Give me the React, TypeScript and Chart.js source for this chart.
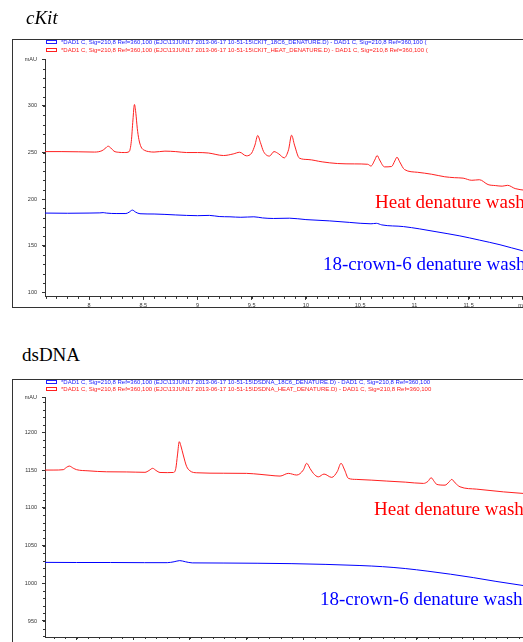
import React, { useEffect, useRef } from 'react';
import { Chart, registerables } from 'chart.js';

Chart.register(...registerables);

// ---------- cKit panel data ----------
const ckitHeatTime = [7.59, 7.75, 7.9, 8.05, 8.12, 8.15, 8.176, 8.2, 8.23, 8.27, 8.33, 8.37, 8.39, 8.405, 8.419, 8.432, 8.445, 8.46, 8.48, 8.51, 8.55, 8.6, 8.7, 8.8, 8.9, 9.0, 9.1, 9.24, 9.33, 9.389, 9.45, 9.5, 9.53, 9.556, 9.58, 9.61, 9.664, 9.706, 9.75, 9.8, 9.84, 9.868, 9.895, 9.94, 10.02, 10.15, 10.29, 10.45, 10.57, 10.6, 10.635, 10.657, 10.68, 10.725, 10.79, 10.82, 10.84, 10.865, 10.91, 11.03, 11.16, 11.28, 11.37, 11.45, 11.53, 11.6, 11.68, 11.75, 11.81, 11.86, 11.93, 12.02, 12.3];
const ckitHeatValue = [251, 251, 250.8, 250.5, 252, 254.5, 256.8, 255, 251.5, 250.3, 250, 251, 262, 285, 301.6, 292, 276, 264, 256, 252.5, 251, 250.5, 251.5, 251, 250, 250, 249.5, 246.8, 248.5, 250.3, 246.5, 249.5, 258, 268.3, 261, 251, 246.2, 251, 248.5, 244.3, 253, 268.6, 258, 244, 242.5, 240, 238.2, 237.8, 237.4, 235.5, 242, 246.8, 242, 234.6, 235, 241, 245, 240, 231.7, 228.8, 226.7, 224, 223, 222.5, 220.2, 220.8, 215.6, 214.5, 213.9, 214.8, 211.3, 209.5, 206];

const ckitCrownTime = [7.59, 7.8, 8.0, 8.1, 8.13, 8.16, 8.25, 8.34, 8.37, 8.4, 8.43, 8.47, 8.6, 8.8, 9.0, 9.11, 9.2, 9.3, 9.4, 9.52, 9.6, 9.7, 9.85, 10.0, 10.22, 10.4, 10.6, 10.65, 10.7, 10.9, 11.05, 11.2, 11.42, 11.6, 11.79, 12.0, 12.3];
const ckitCrownValue = [185, 184.8, 185, 185.2, 185.5, 185, 184.5, 184.5, 186, 188.2, 186, 184.3, 184, 183, 182.2, 182.5, 181.3, 181, 180.5, 181, 179.8, 179.2, 179.5, 178, 176.6, 175, 173.5, 174, 172.3, 170.5, 168, 165, 160.5, 156, 151, 144.5, 137];

const ckitYTicks = [100, 150, 200, 250, 300, 350];
const ckitXTicks = [8, 8.5, 9, 9.5, 10, 10.5, 11, 11.5, 12];

// ---------- dsDNA panel data ----------
const dsdnaHeatTime = [7.18, 7.3, 7.382, 7.41, 7.435, 7.47, 7.5, 7.6, 7.765, 7.942, 8.103, 8.14, 8.171, 8.2, 8.236, 8.3, 8.353, 8.375, 8.39, 8.406, 8.42, 8.441, 8.47, 8.5, 8.56, 8.794, 9.0, 9.118, 9.207, 9.295, 9.368, 9.442, 9.5, 9.53, 9.56, 9.589, 9.633, 9.683, 9.751, 9.8, 9.833, 9.865, 9.898, 9.972, 10.237, 10.4, 10.56, 10.6, 10.628, 10.655, 10.678, 10.751, 10.785, 10.81, 10.84, 10.883, 11.031, 11.266, 11.442, 11.8];
const dsdnaHeatValue = [1150, 1150, 1150.5, 1153.5, 1155.3, 1152.5, 1150.5, 1149, 1147.7, 1147.5, 1147, 1149.5, 1152.3, 1149.5, 1146.8, 1146.6, 1146.8, 1152, 1170, 1187.6, 1182, 1170, 1155, 1149, 1146.4, 1145.8, 1145.6, 1144.3, 1143, 1142, 1145.6, 1143.4, 1150, 1158.9, 1152, 1145.6, 1141, 1144.7, 1140.3, 1148, 1158.9, 1150, 1139, 1137.6, 1135.4, 1134, 1132.3, 1135, 1139.8, 1135, 1131, 1130, 1134, 1137.6, 1133, 1127.8, 1124.7, 1121.1, 1119, 1114];

const dsdnaCrownTime = [7.18, 7.5, 7.8, 8.1, 8.3, 8.36, 8.41, 8.46, 8.52, 8.8, 9.1, 9.4, 9.7, 10.0, 10.2, 10.4, 10.6, 10.8, 11.0, 11.2, 11.44, 11.8];
const dsdnaCrownValue = [1027.7, 1027.5, 1027.5, 1027.3, 1027.3, 1028.5, 1030, 1028.5, 1027, 1026.8, 1026.5, 1026, 1025, 1023.5, 1022, 1019.5, 1016, 1012, 1007.5, 1002.5, 997, 990];

const dsdnaYTicks = [950, 1000, 1050, 1100, 1150, 1200, 1246.4];
const dsdnaXTicks = [7.5, 8, 8.5, 9, 9.5, 10, 10.5, 11, 11.5, 12];

const AXIS = '#333333';
const TICK_FONT = { family: '"Liberation Sans", Arial, sans-serif', size: 5.5 };

const minorTicks = {
  id: 'minorTicks',
  afterDraw(chart: any, _args: any, opts: any) {
    const ctx = chart.ctx;
    const x = chart.scales.x;
    const y = chart.scales.y;
    ctx.save();
    ctx.strokeStyle = AXIS;
    ctx.lineWidth = 1;
    ctx.beginPath();
    const ys = opts.yStep;
    for (let i = Math.ceil(y.min / ys); i * ys <= y.max; i++) {
      const py = Math.round(y.getPixelForValue(i * ys)) + 0.5;
      ctx.moveTo(x.left - 2, py);
      ctx.lineTo(x.left, py);
    }
    const xs = opts.xStep;
    for (let i = Math.ceil(x.min / xs); i * xs <= x.max; i++) {
      const px = Math.round(x.getPixelForValue(i * xs)) + 0.5;
      ctx.moveTo(px, y.bottom);
      ctx.lineTo(px, y.bottom + 2);
    }
    ctx.stroke();
    ctx.restore();
  },
};

type PanelProps = {
  top: number;
  height: number;
  padTop: number;
  xAxisHeight: number;
  xMin: number;
  xMax: number;
  yMin: number;
  yMax: number;
  xTicks: number[];
  yTicks: number[];
  xLast: number | null;
  heatT: number[];
  heatV: number[];
  crownT: number[];
  crownV: number[];
};

function ChartPanel(p: PanelProps) {
  const ref = useRef<HTMLCanvasElement | null>(null);
  useEffect(() => {
    if (!ref.current) return;
    const chart = new Chart(ref.current, {
      type: 'line',
      data: {
        datasets: [
          {
            data: p.crownT.map((t, i) => ({ x: t, y: p.crownV[i] })),
            borderColor: '#0000ff',
            borderWidth: 1,
            pointRadius: 0,
            cubicInterpolationMode: 'monotone',
            fill: false,
          },
          {
            data: p.heatT.map((t, i) => ({ x: t, y: p.heatV[i] })),
            borderColor: '#ff2020',
            borderWidth: 1,
            pointRadius: 0,
            cubicInterpolationMode: 'monotone',
            fill: false,
          },
        ],
      },
      plugins: [minorTicks],
      options: {
        responsive: false,
        animation: false,
        events: [],
        layout: { padding: { top: p.padTop, right: 10, left: 0, bottom: 0 } },
        plugins: {
          legend: { display: false },
          tooltip: { enabled: false },
          // @ts-ignore
          minorTicks: { xStep: 0.1, yStep: 10 },
        },
        scales: {
          x: {
            type: 'linear',
            min: p.xMin,
            max: p.xMax,
            afterBuildTicks: (s: any) => {
              s.ticks = p.xTicks.map((v) => ({ value: v }));
            },
            afterFit: (s: any) => {
              s.height = p.xAxisHeight;
            },
            grid: { drawOnChartArea: false, tickLength: 3, color: AXIS, tickColor: AXIS },
            border: { color: AXIS, width: 1 },
            ticks: {
              font: TICK_FONT,
              color: AXIS,
              padding: 2,
              maxRotation: 0,
              autoSkip: false,
              callback: (v: any) => (p.xLast !== null && v === p.xLast ? 'min' : String(v)),
            },
          },
          y: {
            type: 'linear',
            min: p.yMin,
            max: p.yMax,
            afterBuildTicks: (s: any) => {
              s.ticks = p.yTicks.map((v) => ({ value: v }));
            },
            afterFit: (s: any) => {
              s.width = 45;
            },
            grid: { drawOnChartArea: false, tickLength: 3, color: AXIS, tickColor: AXIS },
            border: { color: AXIS, width: 1 },
            ticks: {
              font: TICK_FONT,
              color: AXIS,
              padding: 5,
              autoSkip: false,
              callback: (v: any) => (v === p.yMax ? 'mAU' : String(v)),
            },
          },
        },
      },
    });
    return () => chart.destroy();
  }, []);
  return (
    <canvas
      ref={ref}
      width={600}
      height={p.height}
      style={{ position: 'absolute', left: 0, top: p.top, width: 600, height: p.height }}
    />
  );
}

const serif = '"Liberation Serif", "Times New Roman", serif';
const sans = '"Liberation Sans", Arial, sans-serif';

function LegendRow({ top, color, text }: { top: number; color: string; text: string }) {
  return (
    <div
      style={{
        position: 'absolute',
        left: 46,
        top: top - 3,
        height: 6,
        display: 'flex',
        alignItems: 'center',
        whiteSpace: 'nowrap',
        fontFamily: sans,
        fontSize: 6,
        color,
        lineHeight: '6px',
      }}
    >
      <span
        style={{
          display: 'inline-block',
          width: 9,
          height: 2,
          border: `1px solid ${color}`,
          marginRight: 4,
          boxSizing: 'content-box',
        }}
      />
      <span>{text}</span>
    </div>
  );
}

function Label({ left, baseline, color, text, italic, size }: { left: number; baseline: number; color: string; text: string; italic?: boolean; size: number }) {
  return (
    <div
      style={{
        position: 'absolute',
        left,
        top: baseline - Math.round(size * 0.836),
        fontFamily: serif,
        fontSize: size,
        lineHeight: `${size}px`,
        fontStyle: italic ? 'italic' : 'normal',
        color,
        whiteSpace: 'nowrap',
      }}
    >
      {text}
    </div>
  );
}

export default function App() {
  return (
    <div
      style={{
        position: 'fixed',
        left: 0,
        top: 0,
        width: 523,
        height: 642,
        overflow: 'hidden',
        background: '#ffffff',
      }}
    >
      {/* frames */}
      <div style={{ position: 'absolute', left: 12, top: 39, width: 600, height: 269, borderLeft: `1px solid ${AXIS}`, borderTop: `1px solid ${AXIS}`, borderBottom: `1px solid ${AXIS}`, boxSizing: 'border-box' }} />
      <div style={{ position: 'absolute', left: 12, top: 379, width: 600, height: 300, borderLeft: `1px solid ${AXIS}`, borderTop: `1px solid ${AXIS}`, boxSizing: 'border-box' }} />

      <ChartPanel
        top={0}
        height={330}
        padTop={59.4}
        xAxisHeight={33.1}
        xMin={7.594}
        xMax={12.62}
        yMin={95}
        yMax={350}
        xTicks={ckitXTicks}
        yTicks={ckitYTicks}
        xLast={12}
        heatT={ckitHeatTime}
        heatV={ckitHeatValue}
        crownT={ckitCrownTime}
        crownV={ckitCrownValue}
      />
      <ChartPanel
        top={370}
        height={280}
        padTop={27.3}
        xAxisHeight={13}
        xMin={7.221}
        xMax={12.03}
        yMin={928.8}
        yMax={1246.4}
        xTicks={dsdnaXTicks}
        yTicks={dsdnaYTicks}
        xLast={null}
        heatT={dsdnaHeatTime}
        heatV={dsdnaHeatValue}
        crownT={dsdnaCrownTime}
        crownV={dsdnaCrownValue}
      />

      <Label left={26} baseline={24} color="#000" text="cKit" italic size={19} />
      <Label left={22} baseline={361} color="#000" text="dsDNA" size={19} />

      <LegendRow top={42.3} color="#2020ff" text={'*DAD1 C, Sig=210,8 Ref=360,100 (EJC\\13JUN17 2013-06-17 10-51-15\\CKIT_18C6_DENATURE.D) - DAD1 C, Sig=210,8 Ref=360,100 ('} />
      <LegendRow top={50} color="#ff2020" text={'*DAD1 C, Sig=210,8 Ref=360,100 (EJC\\13JUN17 2013-06-17 10-51-15\\CKIT_HEAT_DENATURE.D) - DAD1 C, Sig=210,8 Ref=360,100 ('} />
      <LegendRow top={382.3} color="#2020ff" text={'*DAD1 C, Sig=210,8 Ref=360,100 (EJC\\13JUN17 2013-06-17 10-51-15\\DSDNA_18C6_DENATURE.D) - DAD1 C, Sig=210,8 Ref=360,100'} />
      <LegendRow top={389.3} color="#ff2020" text={'*DAD1 C, Sig=210,8 Ref=360,100 (EJC\\13JUN17 2013-06-17 10-51-15\\DSDNA_HEAT_DENATURE.D) - DAD1 C, Sig=210,8 Ref=360,100'} />

      <Label left={375} baseline={208} color="#ff0000" text="Heat denature wash" size={19} />
      <Label left={323} baseline={270} color="#0000ff" text="18-crown-6 denature wash" size={19} />
      <Label left={374} baseline={515} color="#ff0000" text="Heat denature wash" size={19} />
      <Label left={320} baseline={605} color="#0000ff" text="18-crown-6 denature wash" size={19} />
    </div>
  );
}
